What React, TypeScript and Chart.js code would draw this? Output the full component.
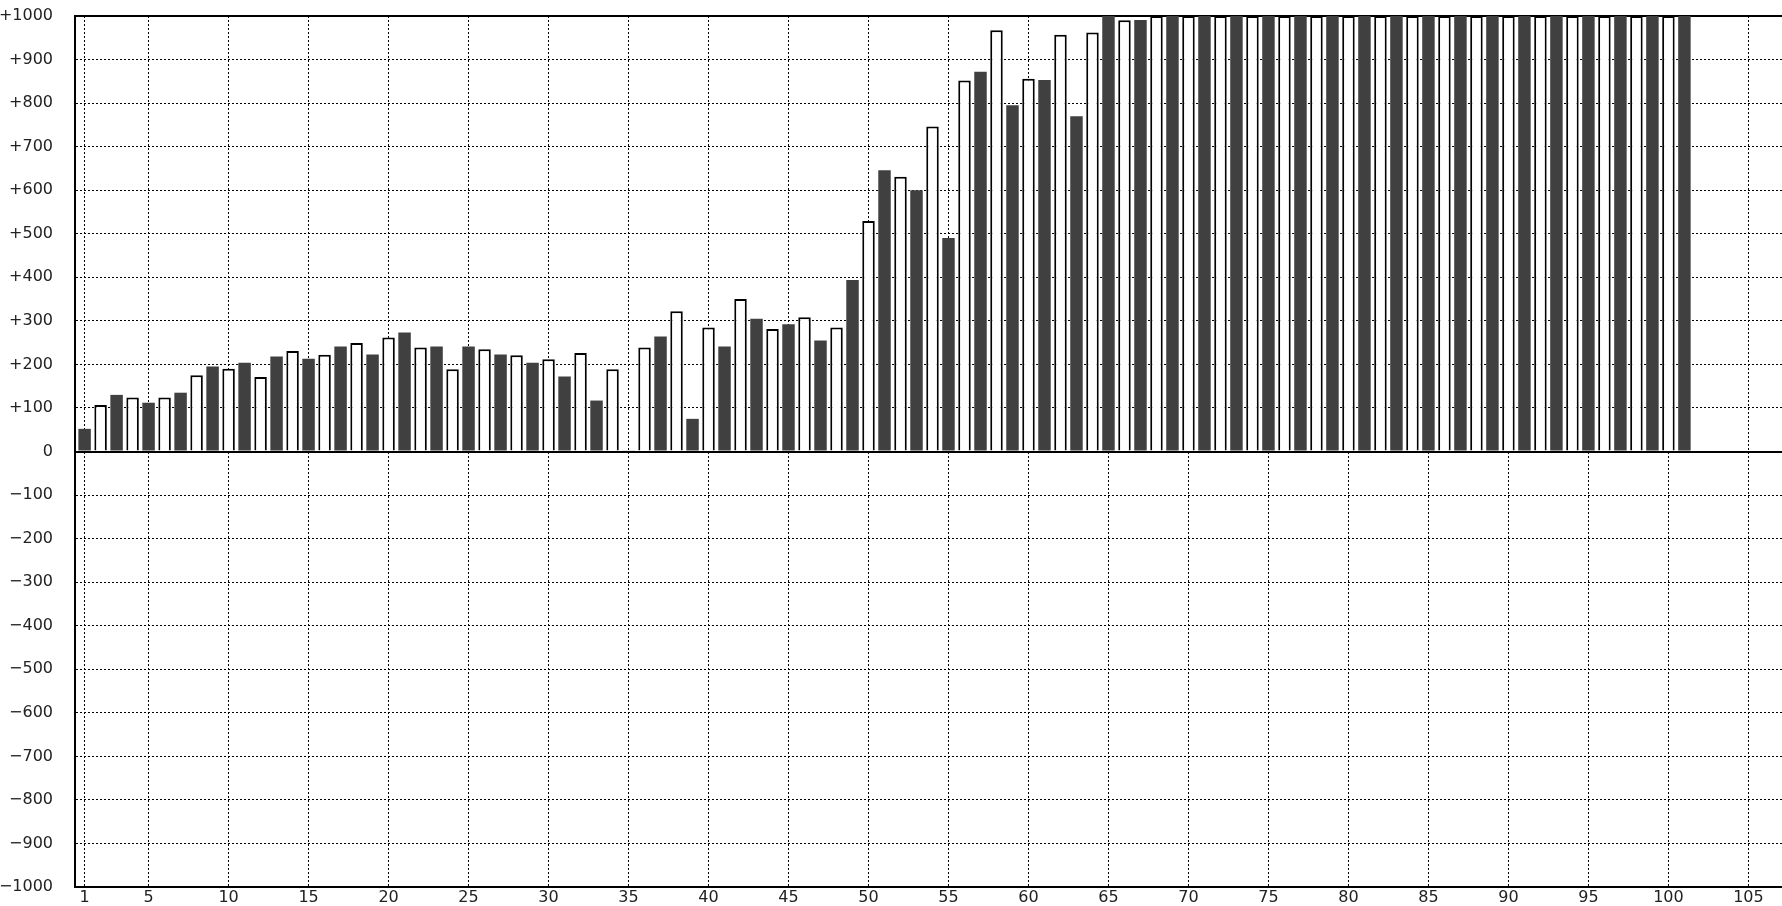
import React, { useEffect, useRef } from 'react';
import { Chart, registerables } from 'chart.js';

Chart.register(...registerables);

// Bar values for positions 1..101 (values above the +1000 top are clipped at the frame)
const barValues: number[] = [
  52, 107, 130, 124, 112, 124, 135, 175, 195, 190,
  204, 171, 218, 231, 213, 222, 241, 249, 223, 262,
  273, 239, 241, 189, 241, 235, 223, 221, 204, 212,
  172, 226, 117, 189, 2, 239, 264, 322, 75, 285,
  241, 350, 305, 281, 292, 308, 255, 285, 394, 529,
  646, 631, 600, 746, 490, 852, 872, 967, 795, 856,
  853, 957, 770, 962, 1000, 990, 991, 1000, 1000, 1000,
  1000, 1000, 1000, 1000, 1000, 1000, 1000, 1000, 1000, 1000,
  1000, 1000, 1000, 1000, 1000, 1000, 1000, 1000, 1000, 1000,
  1000, 1000, 1000, 1000, 1000, 1000, 1000, 1000, 1000, 1000,
  1000,
];

const xTickValues: number[] = [1, 5, 10, 15, 20, 25, 30, 35, 40, 45, 50, 55, 60, 65, 70, 75, 80, 85, 90, 95, 100, 105];
const xRange: number[] = [0.4, 107.1];
const yRange: number[] = [-1000, 1000];
const yStep = 100;
const solidLines: number[] = [-1000, 0, 1000];

const DARK = '#404040';
const FONT = { family: '"DejaVu Sans", sans-serif', size: 16 };

export default function App() {
  const ref = useRef<HTMLCanvasElement>(null);

  useEffect(() => {
    const data = barValues.map((v, i) => ({ x: i + 1, y: v }));
    const zeroLine = {
      id: 'zeroLine',
      afterDatasetsDraw(chart: any) {
        const { ctx, chartArea, scales } = chart;
        const y = Math.round(scales.y.getPixelForValue(0));
        ctx.save();
        ctx.strokeStyle = '#000';
        ctx.lineWidth = 2;
        ctx.beginPath();
        ctx.moveTo(chartArea.left, y);
        ctx.lineTo(chartArea.right, y);
        ctx.stroke();
        ctx.restore();
      },
    };
    const chart = new Chart(ref.current as HTMLCanvasElement, {
      type: 'bar',
      data: {
        datasets: [
          {
            data: data as any,
            backgroundColor: (c: any) => (c.dataIndex % 2 === 0 ? DARK : '#ffffff'),
            borderColor: (c: any) => (c.dataIndex % 2 === 0 ? DARK : '#000000'),
            borderWidth: (c: any) => (c.dataIndex % 2 === 0 ? 0 : 2),
            borderSkipped: 'start',
            categoryPercentage: 0.78,
            barPercentage: 1,
            clip: 0 as any,
          },
        ],
      },
      options: {
        responsive: false,
        animation: false,
        layout: { padding: { top: 16, left: 0, right: 0, bottom: 0 } },
        plugins: { legend: { display: false }, tooltip: { enabled: false } },
        scales: {
          x: {
            type: 'linear',
            offset: false,
            min: xRange[0],
            max: xRange[1],
            afterBuildTicks: (s: any) => {
              s.ticks = xTickValues.map((v) => ({ value: v }));
            },
            afterFit: (s: any) => {
              s.height = 19;
              s.paddingLeft = 0;
              s.paddingRight = 0;
            },
            grid: { color: '#000', lineWidth: 1, drawTicks: false, offset: false },
            border: { display: true, color: '#000', width: 2, dash: [2, 2] },
            ticks: {
              padding: 1,
              color: '#222',
              font: FONT,
              autoSkip: false,
              maxRotation: 0,
              callback: (v: any) => String(v),
            },
          },
          y: {
            type: 'linear',
            min: yRange[0],
            max: yRange[1],
            afterFit: (s: any) => {
              s.width = 75;
              s.paddingTop = 0;
              s.paddingBottom = 0;
            },
            grid: {
              color: '#000',
              lineWidth: (c: any) => (c.tick && solidLines.includes(c.tick.value) ? 2 : 1),
              drawTicks: false,
            },
            border: {
              display: true,
              color: '#000',
              width: 2,
              dash: (c: any) => (c.tick && solidLines.includes(c.tick.value) ? [] : [2, 2]),
            },
            ticks: {
              stepSize: yStep,
              padding: 22,
              color: '#222',
              font: FONT,
              callback: (v: any) => (v > 0 ? '+' + v : v < 0 ? '\u2212' + Math.abs(v) : '0'),
            },
          },
        },
      },
      plugins: [zeroLine],
    });
    return () => chart.destroy();
  }, []);

  return (
    <div style={{ position: 'fixed', left: 0, top: 0, width: 1782, height: 906, background: '#fff', overflow: 'hidden' }}>
      <canvas ref={ref} width={1782} height={906} style={{ display: 'block' }} />
    </div>
  );
}
